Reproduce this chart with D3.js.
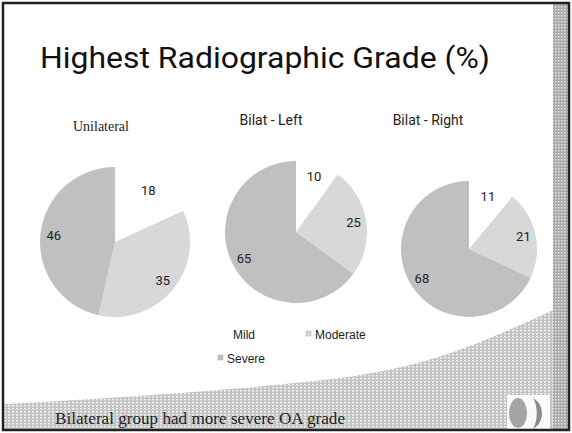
<!DOCTYPE html>
<html>
<head>
<meta charset="utf-8">
<script src="https://cdn.jsdelivr.net/npm/d3@7"></script>
<style>
  body { margin: 0; background: #fff; }
  svg { display: block; }
</style>
</head>
<body>
<svg class="chart"></svg>
<script>
// values
var grades = ["Mild", "Moderate", "Severe"];
var groups = ["Unilateral", "Bilat - Left", "Bilat - Right"];
var unilateral = [18, 35, 46];
var bilatLeft = [10, 25, 65];
var bilatRight = [11, 21, 68];

var width = 572;
var height = 433;

var svg = d3.select(".chart")
  .attr("width", width)
  .attr("height", height);

var defs = svg.append("defs");

// dotted texture for the slide decoration
var dots = defs.append("pattern")
  .attr("id", "dots")
  .attr("width", 3).attr("height", 3)
  .attr("patternUnits", "userSpaceOnUse");
dots.append("rect").attr("width", 3).attr("height", 3).attr("fill", "#a9a9a9");
dots.append("rect").attr("width", 1.5).attr("height", 1.5).attr("fill", "#e6e6e6");

var dotsLight = defs.append("pattern")
  .attr("id", "dotsLight")
  .attr("width", 4).attr("height", 3)
  .attr("patternUnits", "userSpaceOnUse");
dotsLight.append("rect").attr("width", 4).attr("height", 3).attr("fill", "#c4c4c4");
dotsLight.append("rect").attr("width", 2).attr("height", 1.5).attr("fill", "#f2f2f2");

// slide background decoration
var deco = svg.append("g");
deco.append("path")
  .attr("d", "M4,404 C120,398 260,388 340,378 C400,370 440,358 480,342 C510,330 540,316 562,306 L562,430 L4,430 Z")
  .attr("fill", "url(#dotsLight)");
deco.append("rect")
  .attr("x", 553).attr("y", 4).attr("width", 15).attr("height", 426)
  .attr("fill", "url(#dots)");

// little logo bottom right
deco.append("rect")
  .attr("x", 507).attr("y", 395).attr("width", 43).attr("height", 35)
  .attr("fill", "#fafafa");
deco.append("ellipse")
  .attr("cx", 518).attr("cy", 413).attr("rx", 9).attr("ry", 15)
  .attr("fill", "#a4a4a4");
deco.append("path")
  .attr("d", "M533,398 C545,405 545,422 533,429 C538,420 538,406 533,398 Z")
  .attr("fill", "#8c8c8c");

// frame
svg.append("rect")
  .attr("x", 3).attr("y", 3).attr("width", 566).attr("height", 427)
  .attr("fill", "none").attr("stroke", "#222").attr("stroke-width", 2.5);

// title
svg.append("text")
  .attr("x", 40).attr("y", 68)
  .attr("textLength", 450)
  .attr("lengthAdjust", "spacingAndGlyphs")
  .style("font-family", "Roboto, sans-serif")
  .style("font-weight", 400)
  .style("font-size", "30px")
  .attr("fill", "#111")
  .text("Highest Radiographic Grade (%)");

var color = d3.scaleOrdinal()
  .domain(grades)
  .range(["#ffffff", "#d8d8d8", "#c0c0c0"]);

var pie = d3.pie().sort(null).value(function(d) { return d; });

var charts = [
  { name: groups[0], values: unilateral, cx: 115, cy: 242, r: 75, tx: 101, ty: 131, serif: true },
  { name: groups[1], values: bilatLeft, cx: 296, cy: 232, r: 71, tx: 271, ty: 125, serif: false },
  { name: groups[2], values: bilatRight, cx: 469, cy: 249, r: 68, tx: 428, ty: 125, serif: false }
];

charts.forEach(function(c) {
  var g = svg.append("g").attr("transform", "translate(" + c.cx + "," + c.cy + ")");
  var arc = d3.arc().innerRadius(0).outerRadius(c.r);
  var labelArc = d3.arc().innerRadius(c.r * 0.82).outerRadius(c.r * 0.82);

  var slices = pie(c.values);

  g.selectAll("path")
    .data(slices)
    .enter()
    .append("path")
    .attr("d", arc)
    .attr("fill", function(d, i) { return color(grades[i]); });

  g.selectAll("text")
    .data(slices)
    .enter()
    .append("text")
    .attr("transform", function(d) { return "translate(" + labelArc.centroid(d) + ")"; })
    .attr("text-anchor", "middle")
    .attr("dy", "0.35em")
    .style("font-family", "Roboto, sans-serif")
    .style("font-size", "13px")
    .attr("fill", "#222")
    .text(function(d) { return d.data; });

  svg.append("text")
    .attr("x", c.tx).attr("y", c.ty)
    .attr("text-anchor", "middle")
    .style("font-family", c.serif ? "'Liberation Serif', serif" : "Roboto, sans-serif")
    .style("font-size", "14px")
    .attr("fill", "#222")
    .text(c.name);
});

// legend
var legendPos = [
  { x: 233, y: 339 },
  { x: 315, y: 339 },
  { x: 227, y: 363 }
];
var legend = svg.append("g");
grades.forEach(function(name, i) {
  var p = legendPos[i];
  if (i > 0) {
    legend.append("rect")
      .attr("x", p.x - 9).attr("y", p.y - 8)
      .attr("width", 5).attr("height", 5)
      .attr("fill", color(name))
      .attr("stroke", "#aaa").attr("stroke-width", 0.5);
  }
  legend.append("text")
    .attr("x", p.x).attr("y", p.y)
    .style("font-family", "'Liberation Sans', Arial, sans-serif")
    .style("font-size", "12px")
    .attr("fill", "#222")
    .text(name);
});

// caption
svg.append("text")
  .attr("x", 55).attr("y", 424)
  .attr("textLength", 290)
  .attr("lengthAdjust", "spacingAndGlyphs")
  .style("font-family", "'Liberation Serif', serif")
  .style("font-size", "16px")
  .attr("fill", "#222")
  .text("Bilateral group had more severe OA grade");
</script>
</body>
</html>
